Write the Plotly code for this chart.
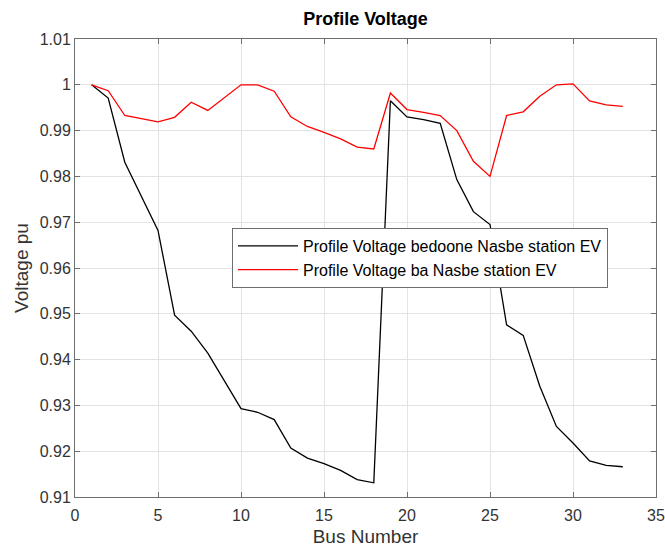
import plotly.graph_objects as go

bus = list(range(1, 34))
v_without_ev = [1.0, 0.9971, 0.9831, 0.9758, 0.9682, 0.9497, 0.9462, 0.9414, 0.9355, 0.9293,
                0.9285, 0.9269, 0.9207, 0.9185, 0.9173, 0.9158, 0.9138, 0.9131, 0.9965, 0.9930,
                0.9924, 0.9916, 0.9793, 0.9723, 0.9695, 0.9476, 0.9453, 0.9342, 0.9254, 0.9218,
                0.9179, 0.9169, 0.9166]
v_with_ev = [1.0, 0.9987, 0.9933, 0.9926, 0.9919, 0.9929, 0.9962, 0.9944, 0.9971, 1.0,
             1.0, 0.9986, 0.9930, 0.9909, 0.9896, 0.9882, 0.9864, 0.9860, 0.9982, 0.9946,
             0.9940, 0.9933, 0.9900, 0.9833, 0.9800, 0.9933, 0.9941, 0.9975, 1.0, 1.0002,
             0.9965, 0.9956, 0.9953]
x_ticks = [0, 5, 10, 15, 20, 25, 30, 35]
y_ticks = [0.91, 0.92, 0.93, 0.94, 0.95, 0.96, 0.97, 0.98, 0.99, 1.0, 1.01]
y_labels = ["0.91", "0.92", "0.93", "0.94", "0.95", "0.96", "0.97", "0.98", "0.99", "1", "1.01"]

FONT = "Liberation Sans, Arial, Helvetica, sans-serif"

fig = go.Figure()
fig.add_trace(go.Scatter(x=bus, y=v_without_ev, mode="lines",
                         name="Profile Voltage bedoone Nasbe station EV",
                         line=dict(color="#000000", width=1.3)))
fig.add_trace(go.Scatter(x=bus, y=v_with_ev, mode="lines",
                         name="Profile Voltage ba Nasbe station EV",
                         line=dict(color="#ff0000", width=1.3)))

axis_common = dict(showline=True, linecolor="#6e6e6e", linewidth=1, mirror="ticks",
                   ticks="inside", ticklen=5, tickcolor="#6e6e6e", showgrid=True,
                   gridcolor="#e3e3e3", gridwidth=1, zeroline=False,
                   tickfont=dict(family=FONT, size=16, color="#333333"))

fig.update_layout(
    width=665, height=547,
    margin=dict(l=75, r=9, t=39, b=50, autoexpand=False),
    paper_bgcolor="white", plot_bgcolor="white",
    title=dict(text="<b>Profile Voltage</b>", x=(75 + 656) / 2 / 665, xanchor="center",
               y=1 - 19 / 547, yanchor="middle",
               font=dict(family=FONT, size=18, color="#000000")),
    xaxis=dict(range=[0, 35], tickvals=x_ticks, ticktext=[str(t) for t in x_ticks],
               ticklabelstandoff=4,
               title=dict(text="Bus Number", font=dict(family=FONT, size=19, color="#333333"),
                          standoff=10),
               **axis_common),
    yaxis=dict(range=[0.91, 1.01], tickvals=y_ticks, ticktext=y_labels,
               title=dict(text="Voltage pu", font=dict(family=FONT, size=19, color="#333333"),
                          standoff=6),
               **axis_common),
    legend=dict(x=(232 - 75) / 581, y=(497 - 228) / 458, xanchor="left", yanchor="top",
                bgcolor="white", bordercolor="#6e6e6e", borderwidth=1,
                itemwidth=60, tracegroupgap=0,
                font=dict(family=FONT, size=16, color="#000000")),
    showlegend=True,
)

fig.write_html("out.html")
